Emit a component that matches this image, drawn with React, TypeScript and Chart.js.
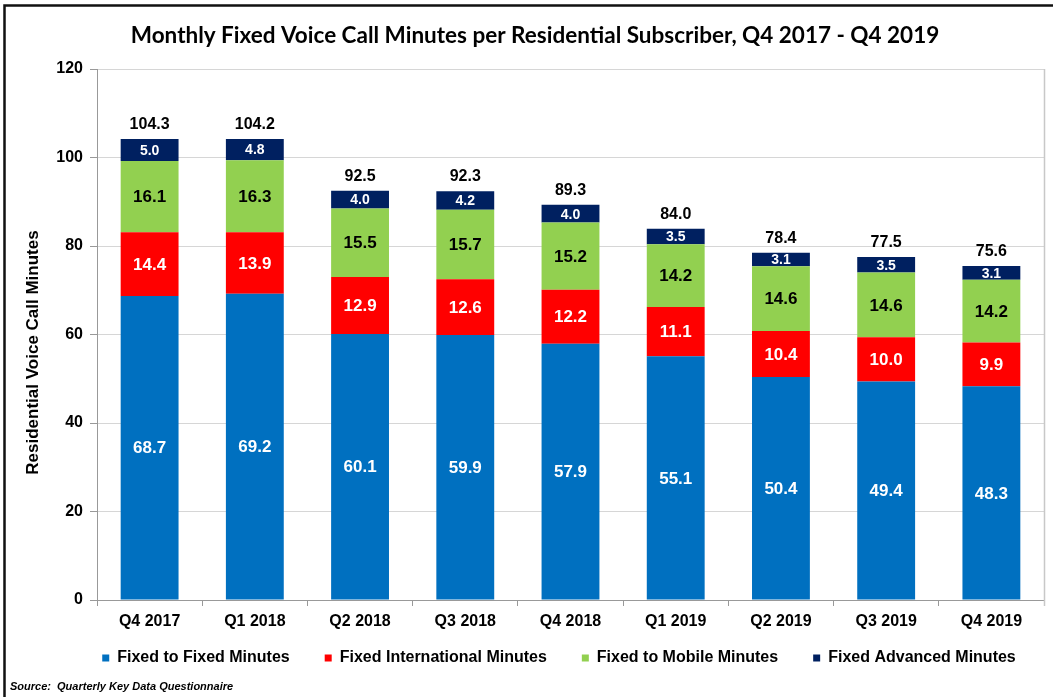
import React, { useEffect, useRef } from "react";
import { Chart, registerables } from "chart.js";

Chart.register(...registerables);

const categories = ["Q4 2017", "Q1 2018", "Q2 2018", "Q3 2018", "Q4 2018", "Q1 2019", "Q2 2019", "Q3 2019", "Q4 2019"];
const fixedToFixed = [68.7, 69.2, 60.1, 59.9, 57.9, 55.1, 50.4, 49.4, 48.3];
const fixedInternational = [14.4, 13.9, 12.9, 12.6, 12.2, 11.1, 10.4, 10.0, 9.9];
const fixedToMobile = [16.1, 16.3, 15.5, 15.7, 15.2, 14.2, 14.6, 14.6, 14.2];
const fixedAdvanced = [5.0, 4.8, 4.0, 4.2, 4.0, 3.5, 3.1, 3.5, 3.1];
const totals = [104.3, 104.2, 92.5, 92.3, 89.3, 84.0, 78.4, 77.5, 75.6];
const yTicks = [0, 20, 40, 60, 80, 100, 120];

const seriesNames = ["Fixed to Fixed Minutes", "Fixed International Minutes", "Fixed to Mobile Minutes", "Fixed Advanced Minutes"];
const seriesColors = ["#0070C0", "#FF0000", "#92D050", "#002060"];
const labelColors = ["#ffffff", "#ffffff", "#000000", "#ffffff"];
const labelSizes = [17, 17, 17, 14];
const yTitle = "Residential Voice Call Minutes";

const ARIAL = "Arial, 'Liberation Sans', Helvetica, sans-serif";

const labelPlugin = {
  id: "segLabels",
  beforeDraw(chart: any) {
    const ctx = chart.ctx;
    ctx.save();
    ctx.fillStyle = "#ffffff";
    ctx.fillRect(0, 0, chart.width, chart.height);
    ctx.restore();
  },
  afterLayout(chart: any) {
    if (chart.legend) {
      chart.legend.left += 32;
      chart.legend.right += 32;
    }
    if (chart.titleBlock) {
      chart.titleBlock.left += 8;
      chart.titleBlock.right += 8;
    }
    const xs = chart.scales.x;
    if (xs) {
      xs.bottom = xs.top + 45;
    }
  },
  afterDatasetsDraw(chart: any) {
    const ctx = chart.ctx;
    ctx.save();
    ctx.textAlign = "center";
    ctx.textBaseline = "middle";
    chart.data.datasets.forEach((ds: any, i: number) => {
      const meta = chart.getDatasetMeta(i);
      ctx.font = `bold ${labelSizes[i]}px ${ARIAL}`;
      ctx.fillStyle = labelColors[i];
      meta.data.forEach((bar: any, j: number) => {
        const p = bar.getProps(["x", "y", "base"], true);
        const cy = (p.y + p.base) / 2;
        ctx.fillText(Number(ds.data[j]).toFixed(1), p.x, cy + 1);
      });
    });
    const top = chart.getDatasetMeta(3);
    ctx.font = `bold 16px ${ARIAL}`;
    ctx.fillStyle = "#000000";
    ctx.textBaseline = "alphabetic";
    top.data.forEach((bar: any, j: number) => {
      const p = bar.getProps(["x", "y"], true);
      ctx.fillText(totals[j].toFixed(1), p.x, p.y - 10);
    });
    ctx.restore();
  },
  afterDraw(chart: any) {
    const ctx = chart.ctx;
    const a = chart.chartArea;
    ctx.save();
    ctx.strokeStyle = "#c8c8c8";
    ctx.lineWidth = 1.5;
    ctx.beginPath();
    ctx.moveTo(a.right + 0.5, a.top);
    ctx.lineTo(a.right + 0.5, a.bottom + 6);
    ctx.stroke();
    ctx.strokeStyle = "#111111";
    ctx.lineWidth = 2.5;
    ctx.beginPath();
    ctx.moveTo(4.5, chart.height);
    ctx.lineTo(4.5, 5.5);
    ctx.lineTo(chart.width, 5.5);
    ctx.stroke();
    // y axis title
    ctx.save();
    ctx.translate(33, (a.top + a.bottom) / 2 + 18);
    ctx.rotate(-Math.PI / 2);
    ctx.fillStyle = "#000000";
    ctx.font = `bold 17px ${ARIAL}`;
    ctx.textAlign = "center";
    ctx.textBaseline = "middle";
    ctx.fillText(yTitle, 0, 0);
    ctx.restore();
    ctx.fillStyle = "#000000";
    ctx.font = `italic bold 11px ${ARIAL}`;
    ctx.textAlign = "left";
    ctx.textBaseline = "alphabetic";
    ctx.fillText("Source:  Quarterly Key Data Questionnaire", 10, 690);
    ctx.restore();
  },
};

export default function App() {
  const ref = useRef<HTMLCanvasElement | null>(null);
  useEffect(() => {
    if (!ref.current) return;
    const data = [fixedToFixed, fixedInternational, fixedToMobile, fixedAdvanced];
    const chart = new Chart(ref.current, {
      type: "bar",
      data: {
        labels: categories,
        datasets: data.map((d, i) => ({
          label: seriesNames[i],
          data: d,
          backgroundColor: seriesColors[i],
          borderWidth: 0,
          barPercentage: 0.55,
          categoryPercentage: 1,
        })),
      },
      plugins: [labelPlugin],
      options: {
        responsive: false,
        animation: false,
        layout: { padding: { left: 10, right: 9, top: 0, bottom: 21 } },
        plugins: {
          title: {
            display: true,
            text: "Monthly Fixed Voice Call Minutes per Residential Subscriber, Q4 2017 - Q4 2019",
            color: "#000000",
            font: { family: "Lato, 'Open Sans', sans-serif", size: 22.5, weight: "bold" },
            padding: { top: 22, bottom: 20 },
          },
          legend: {
            position: "bottom",
            labels: {
              boxWidth: 7,
              boxHeight: 7,
              padding: 35,
              color: "#000000",
              font: { family: ARIAL, size: 16, weight: "bold" },
            },
          },
          tooltip: { enabled: false },
        },
        scales: {
          x: {
            stacked: true,
            afterFit: (scale: any) => {
              scale.height = 15;
            },
            grid: { display: true, drawOnChartArea: false, drawTicks: true, tickLength: 6, color: "#999999" },
            border: { display: true, color: "#999999" },
            ticks: { color: "#000000", font: { family: ARIAL, size: 16, weight: "bold" }, padding: 6 },
          },
          y: {
            stacked: true,
            min: 0,
            max: 120,
            afterBuildTicks: (scale: any) => {
              scale.ticks = yTicks.map((v) => ({ value: v }));
            },
            afterFit: (scale: any) => {
              scale.width = 87;
            },
            grid: { color: "#d6d6d6", tickLength: 7, tickColor: "#999999" },
            border: { display: true, color: "#999999" },
            ticks: { color: "#000000", font: { family: ARIAL, size: 16, weight: "bold" }, padding: 7 },
          },
        },
      } as any,
    });
    return () => chart.destroy();
  }, []);
  return (
    <div style={{ position: "absolute", left: 0, top: 0, width: 1053, height: 697 }}>
      <canvas ref={ref} width={1053} height={697} />
    </div>
  );
}
